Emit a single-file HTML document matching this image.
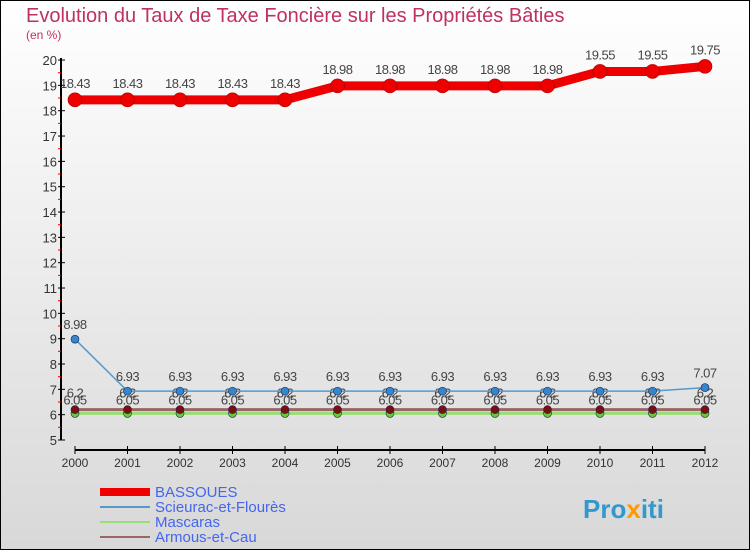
<!DOCTYPE html>
<html><head><meta charset="utf-8"><style>
body{margin:0;width:750px;height:550px;overflow:hidden;font-family:"Liberation Sans",sans-serif}
</style></head><body>
<svg width="750" height="550" xmlns="http://www.w3.org/2000/svg" font-family="Liberation Sans, sans-serif">
<defs><linearGradient id="bg" x1="0" y1="0" x2="0" y2="1"><stop offset="0" stop-color="#ffffff"/><stop offset="1" stop-color="#d8d8d8"/></linearGradient></defs>
<rect x="0.5" y="0.5" width="749" height="549" fill="url(#bg)" stroke="#000"/>
<text x="26" y="22" font-size="20" fill="#c03060">Evolution du Taux de Taxe Foncière sur les Propriétés Bâties</text>
<text x="26" y="39" font-size="12" fill="#c03060">(en %)</text>
<g id="axes"></g><g id="series"></g><g id="legend"></g>
<text x="583" y="518" font-size="26" font-weight="bold" fill="#3399cc">Pro<tspan fill="#ff9900">x</tspan>iti</text>
</svg>
<script>
const years=[2000,2001,2002,2003,2004,2005,2006,2007,2008,2009,2010,2011,2012];
const bassoues=[18.43,18.43,18.43,18.43,18.43,18.98,18.98,18.98,18.98,18.98,19.55,19.55,19.75];
const scieurac=[8.98,6.93,6.93,6.93,6.93,6.93,6.93,6.93,6.93,6.93,6.93,6.93,7.07];
const mascaras=[6.05,6.05,6.05,6.05,6.05,6.05,6.05,6.05,6.05,6.05,6.05,6.05,6.05];
const armous=[6.2,6.2,6.2,6.2,6.2,6.2,6.2,6.2,6.2,6.2,6.2,6.2,6.2];
const yTicks=[5,6,7,8,9,10,11,12,13,14,15,16,17,18,19,20];
const NS="http://www.w3.org/2000/svg";
const X=i=>75+i*52.5, Y=v=>440-(v-5)*25.33;
function mk(p,t,a){const e=document.createElementNS(NS,t);for(const k in a)e.setAttribute(k,a[k]);p.appendChild(e);return e;}
const ax=document.getElementById('axes');
let l=mk(ax,'line',{x1:61,y1:58,x2:61,y2:440,stroke:'#000','stroke-width':2});


yTicks.forEach(v=>{mk(ax,'line',{x1:58,x2:65,y1:Y(v),y2:Y(v),stroke:'#000'});
 if(v<20)mk(ax,'line',{x1:58,x2:61,y1:Y(v+0.5),y2:Y(v+0.5),stroke:'#e00'});
 const t=mk(ax,'text',{x:57,y:Y(v)+5,'font-size':13,'text-anchor':'end',fill:'#333'});t.textContent=v;
 
 });
l=mk(ax,'line',{x1:75,y1:450,x2:705,y2:450,stroke:'#000','stroke-width':2});


years.forEach((y,i)=>{mk(ax,'line',{x1:X(i),x2:X(i),y1:446,y2:454,stroke:'#000'});
 const t=mk(ax,'text',{x:X(i),y:467,'font-size':12,'text-anchor':'middle',fill:'#333'});t.textContent=y;
 
 });
const sg=document.getElementById('series');
function series(d,name,col,w,r,fill,lab,dy){
 const g=mk(sg,'g',{});
 
 
 mk(g,'polyline',{points:d.map((v,i)=>X(i)+','+Y(v)).join(' '),fill:'none',stroke:col,'stroke-width':w});
 d.forEach((v,i)=>{const c=mk(g,'circle',{cx:X(i),cy:Y(v),r:r,fill:fill,stroke:col==fill?'#a00':'#225','stroke-width':0.6});
  
  
  if(lab){const t=mk(g,'text',{x:X(i),y:Y(v)+dy,'font-size':13,'text-anchor':'middle',fill:'#444','letter-spacing':'-0.5'});t.textContent=v;
   
   }});
}
series(mascaras,'series-mascaras','#99dd77',3,4,'#66cc33',true,-9);
series(armous,'series-armous','#996666',3,4,'#771111',true,-12);
series(scieurac,'series-scieurac','#5599cc',1.5,4,'#3388cc',true,-10);
series(bassoues,'series-bassoues','#ee0000',9,7,'#ee0000',true,-12);
const lg=document.getElementById('legend');
[['BASSOUES','#ee0000',8],['Scieurac-et-Flourès','#5599cc',2],['Mascaras','#99dd77',2],['Armous-et-Cau','#996666',2]].forEach((e,i)=>{
 const g=mk(lg,'g',{});
 
 
 const y=492+i*15;
 mk(g,'line',{x1:100,x2:150,y1:y,y2:y,stroke:e[1],'stroke-width':e[2]});
 const t=mk(g,'text',{x:155,y:y+5,'font-size':15,fill:'#4466ee'});t.textContent=e[0];});
</script>
</body></html>
